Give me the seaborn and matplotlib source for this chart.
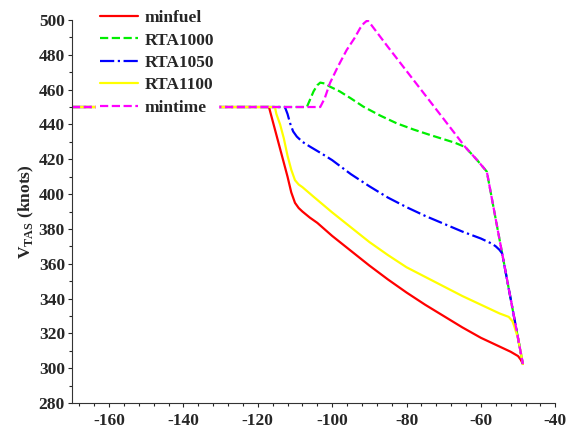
import matplotlib
matplotlib.use("Agg")
import matplotlib.pyplot as plt
import numpy as np
import pandas as pd
import seaborn as sns
from matplotlib.ticker import MultipleLocator

# distance (x) and true airspeed (knots)
minfuel_x = [-170, -117, -116, -115, -114, -113, -112, -111, -110, -109, -108, -106, -104,
             -100, -95, -90, -85, -80, -75, -70, -65, -60, -55, -52, -50, -49.3, -48.7]
minfuel_y = [450, 450, 442, 434, 426, 418, 410, 401, 395, 392, 390, 386.5, 383.5,
             376, 367.5, 359, 351, 343.5, 336.5, 330, 323.5, 317.5, 312.5, 309.5, 307, 305, 302.5]

rta1000_x = [-170, -106.8, -106, -105, -104, -103.2, -102, -100.6, -98, -95, -91.6, -87,
             -82.6, -78, -73.6, -70, -67, -64.2, -61, -58.4, -56, -54, -52, -50, -48.7]
rta1000_y = [450, 450, 454, 459, 462.5, 464, 463.5, 461.7, 459, 455, 450.2, 445,
             440.6, 437, 433.9, 431.5, 429.5, 427, 419.5, 412.9, 385.5, 362.8, 340, 317.2, 302.4]

rta1050_x = [-170, -112.7, -112, -111.3, -110.5, -109.5, -108, -106, -103, -100, -95, -90,
             -85, -80, -75, -70, -65, -60, -57, -56, -55, -54.3, -52, -50, -48.7]
rta1050_y = [450, 450, 446, 440.6, 436, 433, 430, 427.3, 423.5, 419.5, 411.5, 404.5,
             398, 392.5, 387.5, 383, 378.5, 374.5, 371.5, 370, 368, 366, 340, 317.2, 302.4]

rta1100_x = [-170, -115.4, -115, -114, -113, -112, -111, -110, -109, -108, -105, -100, -95,
             -90, -85, -80, -75, -70, -65, -60, -55, -52.5, -51.5, -51, -50, -49.5, -48.7]
rta1100_y = [450, 450, 446, 440, 432, 422, 414, 408, 405.5, 404, 398.5, 389.5, 381,
             372.5, 365, 358, 352.5, 347, 341.5, 336.5, 331.5, 329.5, 327, 324, 317.2, 311.5, 302.4]

mintime_x = [-170, -103.2, -102, -100.6, -98.5, -96.1, -94, -92.5, -91.5, -90.5, -89.5,
             -85, -80, -75, -70, -64.2, -61, -58.4, -56, -54, -52, -50, -48.7]
mintime_y = [450, 450, 455, 463.7, 473, 482.7, 489.5, 495.2, 498, 499.8, 497.2,
             484.5, 470.7, 456.9, 443.1, 427, 419.5, 412.9, 385.5, 362.8, 340, 317.2, 302.4]

series_names = ["minfuel", "RTA1000", "RTA1050", "RTA1100", "mintime"]
series_x = [minfuel_x, rta1000_x, rta1050_x, rta1100_x, mintime_x]
series_y = [minfuel_y, rta1000_y, rta1050_y, rta1100_y, mintime_y]
colors = ["#ff0000", "#00ee00", "#0000ff", "#ffff00", "#ff00ff"]
styles = ["-", "--", "-.", "-", "--"]

frames = []
for name, xs, ys in zip(series_names, series_x, series_y):
    frames.append(pd.DataFrame({"x": xs, "v": ys, "case": name}))
df = pd.concat(frames, ignore_index=True)

sns.set_style("ticks")
plt.rcParams["font.family"] = ["Liberation Serif", "DejaVu Serif"]
plt.rcParams["font.weight"] = "bold"
plt.rcParams["axes.labelweight"] = "bold"
plt.rcParams["axes.unicode_minus"] = False
plt.rcParams["mathtext.fontset"] = "custom"
plt.rcParams["mathtext.rm"] = "Liberation Serif:bold"
plt.rcParams["mathtext.bf"] = "Liberation Serif:bold"

fig = plt.figure(figsize=(5.66, 4.33), dpi=100)
ax = fig.add_axes([0.127, 0.069, 0.854, 0.885])

for name, color, ls in zip(series_names, colors, styles):
    sub = df[df["case"] == name]
    sns.lineplot(data=sub, x="x", y="v", ax=ax, color=color, linestyle=ls,
                 linewidth=1.6, label=name, estimator=None, sort=False)

ax.set_xlim(-170, -40)
ax.set_ylim(280, 500)
ax.xaxis.set_major_locator(MultipleLocator(20))
ax.xaxis.set_minor_locator(MultipleLocator(4))
ax.yaxis.set_major_locator(MultipleLocator(20))
ax.yaxis.set_minor_locator(MultipleLocator(10))
ax.tick_params(which="major", direction="out", length=3, width=0.8, labelsize=12.5, pad=2)
ax.tick_params(which="minor", direction="out", length=2, width=0.8)
ax.tick_params(axis="x", pad=4)
for lab in ax.get_xticklabels() + ax.get_yticklabels():
    lab.set_fontweight("bold")

sns.despine(ax=ax)
for sp in ["left", "bottom"]:
    ax.spines[sp].set_linewidth(0.8)
    ax.spines[sp].set_color("#333333")

ax.set_xlabel("")
ax.set_ylabel(r"$\mathbf{V}_{\mathbf{TAS}}$ (knots)", fontsize=12.5, fontweight="bold", labelpad=2)

leg = ax.legend(loc="upper left", bbox_to_anchor=(0.05, 1.035), frameon=True,
                fancybox=False, framealpha=1, edgecolor="white",
                prop={"family": "Liberation Serif", "weight": "bold", "size": 12.5},
                handlelength=2.2, handletextpad=0.4, labelspacing=0.36, borderpad=0.2,
                borderaxespad=0)
leg.set_zorder(5)

fig.savefig("out.png", dpi=100)
